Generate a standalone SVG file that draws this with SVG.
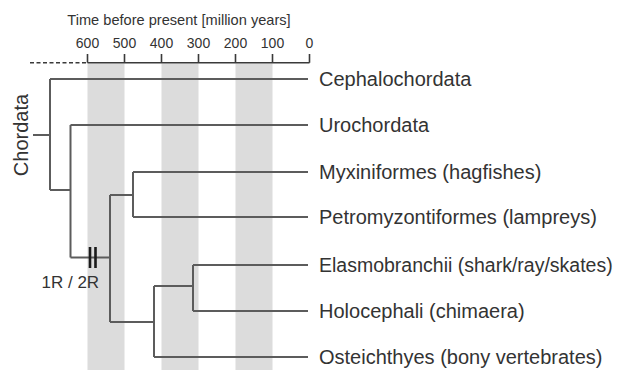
<svg xmlns="http://www.w3.org/2000/svg" width="618" height="370" viewBox="0 0 618 370">
<style>
text{font-family:"Liberation Sans",Arial,sans-serif;fill:#333}
.lbl{font-size:20px}
.tick{font-size:14px;text-anchor:middle}
.br{fill:none;stroke:#5c5c5c;stroke-width:2}
.ax{fill:none;stroke:#3a3a3a;stroke-width:1.6}
.band{fill:#dcdcdc}
</style>
<rect width="618" height="370" fill="#fff"/>
<g id="bands">
<rect class="band" x="87.5" y="63.5" width="37" height="306.5"/>
<rect class="band" x="161.5" y="63.5" width="37" height="306.5"/>
<rect class="band" x="235.5" y="63.5" width="37" height="306.5"/>
</g>
<g id="axis">
<text x="179" y="25" style="font-size:14.6px;text-anchor:middle">Time before present [million years]</text>
<text class="tick" x="87.5" y="48">600</text>
<text class="tick" x="124.5" y="48">500</text>
<text class="tick" x="161.5" y="48">400</text>
<text class="tick" x="198.5" y="48">300</text>
<text class="tick" x="235.5" y="48">200</text>
<text class="tick" x="272.5" y="48">100</text>
<text class="tick" x="309.5" y="48">0</text>
<path class="ax" d="M30,62.7H87.5" stroke-dasharray="4,2.5"/>
<path class="ax" d="M87.5,62.7H309.5M87.5,62.7V54M124.5,62.7V54M161.5,62.7V54M198.5,62.7V54M235.5,62.7V54M272.5,62.7V54M309.5,62.7V54"/>
</g>
<g id="connectors">
<path class="br" d="M33,135H50M50,79V190M50,79H308M50,190H70.5M70.5,125V257.5M70.5,125H308M70.5,257.5H110M110,195V322M110,195H133M133,172V217M133,172H308M133,217H308M110,322H154M154,286V357M154,357H308M154,286H193M193,265V311M193,265H308M193,311H308"/>
<path d="M90,247V268M95.5,247V268" fill="none" stroke="#1a1a1a" stroke-width="2.6"/>
</g>
<g id="chordata"><text class="lbl" transform="translate(28,135) rotate(-90)" text-anchor="middle">Chordata</text></g>
<g id="wgd"><text x="41.5" y="288" style="font-size:17px">1R / 2R</text></g>
<g id="cephalochordata"><text class="lbl" x="319" y="86">Cephalochordata</text></g>
<g id="urochordata"><text class="lbl" x="319" y="132">Urochordata</text></g>
<g id="myxiniformes"><text class="lbl" x="319" y="179">Myxiniformes (hagfishes)</text></g>
<g id="petromyzontiformes"><text class="lbl" x="319" y="224">Petromyzontiformes (lampreys)</text></g>
<g id="elasmobranchii"><text x="319" y="272" style="font-size:19.5px">Elasmobranchii (shark/ray/skates)</text></g>
<g id="holocephali"><text class="lbl" x="319" y="318">Holocephali (chimaera)</text></g>
<g id="osteichthyes"><text class="lbl" x="319" y="364">Osteichthyes (bony vertebrates)</text></g>
</svg>
